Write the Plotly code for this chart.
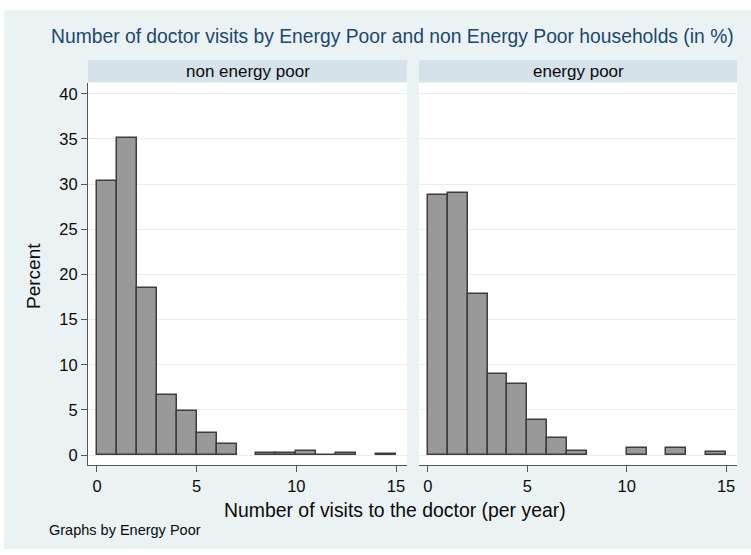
import plotly.graph_objects as go

# Histogram of doctor visits per year, bin width 1 (left edges 0..14)
bin_starts = list(range(15))
non_energy_poor = [30.4, 35.1, 18.5, 6.6, 4.9, 2.4, 1.2, 0.0, 0.2, 0.2, 0.4, 0.05, 0.25, 0.0, 0.15]
energy_poor = [28.8, 29.0, 17.8, 9.0, 7.9, 3.9, 1.9, 0.4, 0.0, 0.0, 0.8, 0.0, 0.8, 0.0, 0.3]
panel_names = ["non energy poor", "energy poor"]
y_ticks = [0, 5, 10, 15, 20, 25, 30, 35, 40]
x_ticks = [0, 5, 10, 15]

W, H = 751, 555
BG = "#eaf2f3"
STRIP = "#d6e2e9"
NAVY = "#1a476f"
AXIS = "#555555"
TXT = "#0a0a0a"
FONT = "Liberation Sans, Arial, sans-serif"
TICK_SIZE = 16.5


def px_x(v):
    return v / W


def px_y(v):
    return 1 - v / H


panels = [(88, 407), (419, 737)]
plot_top, plot_bottom = 83, 465
strip_top, strip_bottom = 60, 82

fig = go.Figure()

for i, (vals, (x0, x1)) in enumerate(zip([non_energy_poor, energy_poor], panels)):
    xs = [b + 0.5 for b, v in zip(bin_starts, vals) if v > 0]
    ys = [v for v in vals if v > 0]
    suffix = "" if i == 0 else "2"
    fig.add_trace(go.Bar(
        x=xs, y=ys, width=1,
        marker=dict(color="#999999", line=dict(color="#3d3d3d", width=1.5)),
        xaxis="x" + suffix, yaxis="y" + suffix,
        showlegend=False, hoverinfo="x+y",
    ))

xaxis_common = dict(
    range=[-0.45, 15.55], tickvals=x_ticks, ticks="outside", ticklen=6,
    tickcolor=AXIS, showline=True, linecolor=AXIS, linewidth=1,
    showgrid=False, zeroline=False,
    tickfont=dict(family=FONT, size=TICK_SIZE, color=TXT),
)
yaxis_common = dict(
    range=[-1.1, 41.2], tickvals=y_ticks, showgrid=True,
    gridcolor="#e4edf0", gridwidth=1, zeroline=False,
)

fig.update_layout(
    width=W, height=H,
    margin=dict(l=0, r=0, t=0, b=0),
    paper_bgcolor=BG, plot_bgcolor="white",
    bargap=0,
    xaxis=dict(domain=[px_x(panels[0][0]), px_x(panels[0][1])], anchor="y", **xaxis_common),
    xaxis2=dict(domain=[px_x(panels[1][0]), px_x(panels[1][1])], anchor="y2", **xaxis_common),
    yaxis=dict(domain=[px_y(plot_bottom), px_y(plot_top)], anchor="x",
               ticks="outside", ticklen=6, tickcolor=AXIS,
               showline=True, linecolor=AXIS, linewidth=1,
               tickfont=dict(family=FONT, size=TICK_SIZE, color=TXT),
               **yaxis_common),
    yaxis2=dict(domain=[px_y(plot_bottom), px_y(plot_top)], anchor="x2",
                matches="y", showticklabels=False, showline=False, ticks="",
                **yaxis_common),
)

white_edge = dict(type="rect", xref="paper", yref="paper", layer="below",
                  fillcolor="white", line=dict(width=0))
shapes = [
    # white page margins around the graph region
    dict(white_edge, x0=0, x1=1, y0=px_y(10), y1=1),
    dict(white_edge, x0=0, x1=px_x(4), y0=0, y1=1),
    dict(white_edge, x0=0, x1=1, y0=0, y1=px_y(549)),
]
annotations = []
for name, (x0, x1) in zip(panel_names, panels):
    shapes.append(dict(type="rect", xref="paper", yref="paper", layer="below",
                       x0=px_x(x0), x1=px_x(x1), y0=px_y(strip_bottom), y1=px_y(strip_top),
                       fillcolor=STRIP, line=dict(width=0)))
    annotations.append(dict(text=name, xref="paper", yref="paper",
                            x=px_x((x0 + x1) / 2), y=px_y((strip_top + strip_bottom) / 2),
                            xanchor="center", yanchor="middle", showarrow=False,
                            font=dict(family=FONT, size=17, color=TXT)))

annotations += [
    dict(text="Number of doctor visits by Energy Poor and non Energy Poor households (in %)",
         xref="paper", yref="paper", x=px_x(392), y=px_y(36),
         xanchor="center", yanchor="middle", showarrow=False,
         font=dict(family=FONT, size=19.3, color=NAVY)),
    dict(text="Percent", xref="paper", yref="paper", x=px_x(33), y=px_y(276),
         xanchor="center", yanchor="middle", showarrow=False, textangle=-90,
         font=dict(family=FONT, size=19, color=TXT)),
    dict(text="Number of visits to the doctor (per year)", xref="paper", yref="paper",
         x=px_x(395), y=px_y(510), xanchor="center", yanchor="middle", showarrow=False,
         font=dict(family=FONT, size=19.4, color=TXT)),
    dict(text="Graphs by Energy Poor", xref="paper", yref="paper",
         x=px_x(47), y=px_y(530), xanchor="left", yanchor="middle", showarrow=False,
         font=dict(family=FONT, size=14.5, color=TXT)),
]

fig.update_layout(shapes=shapes, annotations=annotations)
fig.write_html("out.html")
